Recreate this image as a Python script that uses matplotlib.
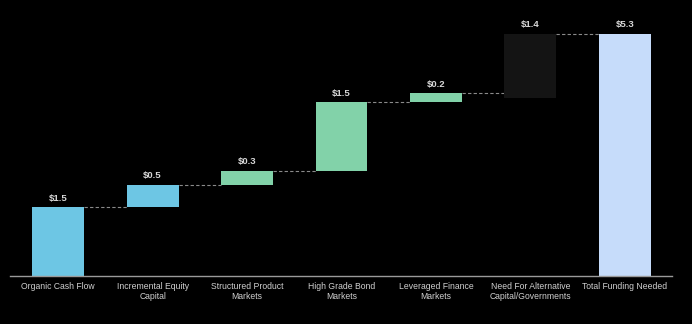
import matplotlib.pyplot as plt

plt.rcParams['font.family'] = ['Liberation Sans', 'DejaVu Sans']

# funding sources ($ trillions)
categories = [
    "Organic Cash Flow",
    "Incremental Equity\nCapital",
    "Structured Product\nMarkets",
    "High Grade Bond\nMarkets",
    "Leveraged Finance\nMarkets",
    "Need For Alternative\nCapital/Governments",
    "Total Funding Needed",
]
values = [1.5, 0.5, 0.3, 1.5, 0.2, 1.4, 5.3]
labels = ["$1.5", "$0.5", "$0.3", "$1.5", "$0.2", "$1.4", "$5.3"]
colors = ["#6DC6E4", "#6DC6E4", "#82D2A9", "#82D2A9", "#82D2A9", "#141414", "#C6DCFA"]

# bottoms of the floating bars: running total, the gap bar hangs from the total
bottoms = []
running = 0.0
for v in values[:-2]:
    bottoms.append(running)
    running += v
bottoms.append(values[-1] - values[-2])
bottoms.append(0.0)

fig = plt.figure(figsize=(6.92, 3.24), dpi=100, facecolor='black')
ax = fig.add_axes([10 / 692, 1 - 276 / 324, 662 / 692, 270 / 324])
ax.set_facecolor('black')

x = list(range(len(categories)))
width = 0.55
ax.bar(x, values, width=width, bottom=bottoms, color=colors, zorder=2)

# value labels
for i, (v, b, t) in enumerate(zip(values, bottoms, labels)):
    ax.text(i, b + v + 0.1, t, ha='center', va='bottom', fontsize=6.8,
            fontweight='bold', color='#D8D8D8')

# dashed connectors between neighbouring bars
for i in range(len(values) - 1):
    level = bottoms[i] + values[i]
    if i == len(values) - 2:
        level = values[-1]
    ax.plot([i + width / 2, i + 1 - width / 2], [level, level],
            ls=(0, (3, 2)), lw=0.8, color='#8A8A8A', zorder=1)

ax.set_xlim(-0.51, 6.5)
ax.set_ylim(0, 270 / 45.7)
ax.set_xticks(x)
ax.set_xticklabels(categories, fontsize=6.2, color='#D0D0D0', linespacing=1.15)
ax.tick_params(axis='x', length=0, pad=4.5)
ax.set_yticks([])
for side in ['top', 'right', 'left']:
    ax.spines[side].set_visible(False)
ax.spines['bottom'].set_color('#9A9A9A')
ax.spines['bottom'].set_linewidth(1.0)

fig.savefig('out.png', dpi=100, facecolor='black')
